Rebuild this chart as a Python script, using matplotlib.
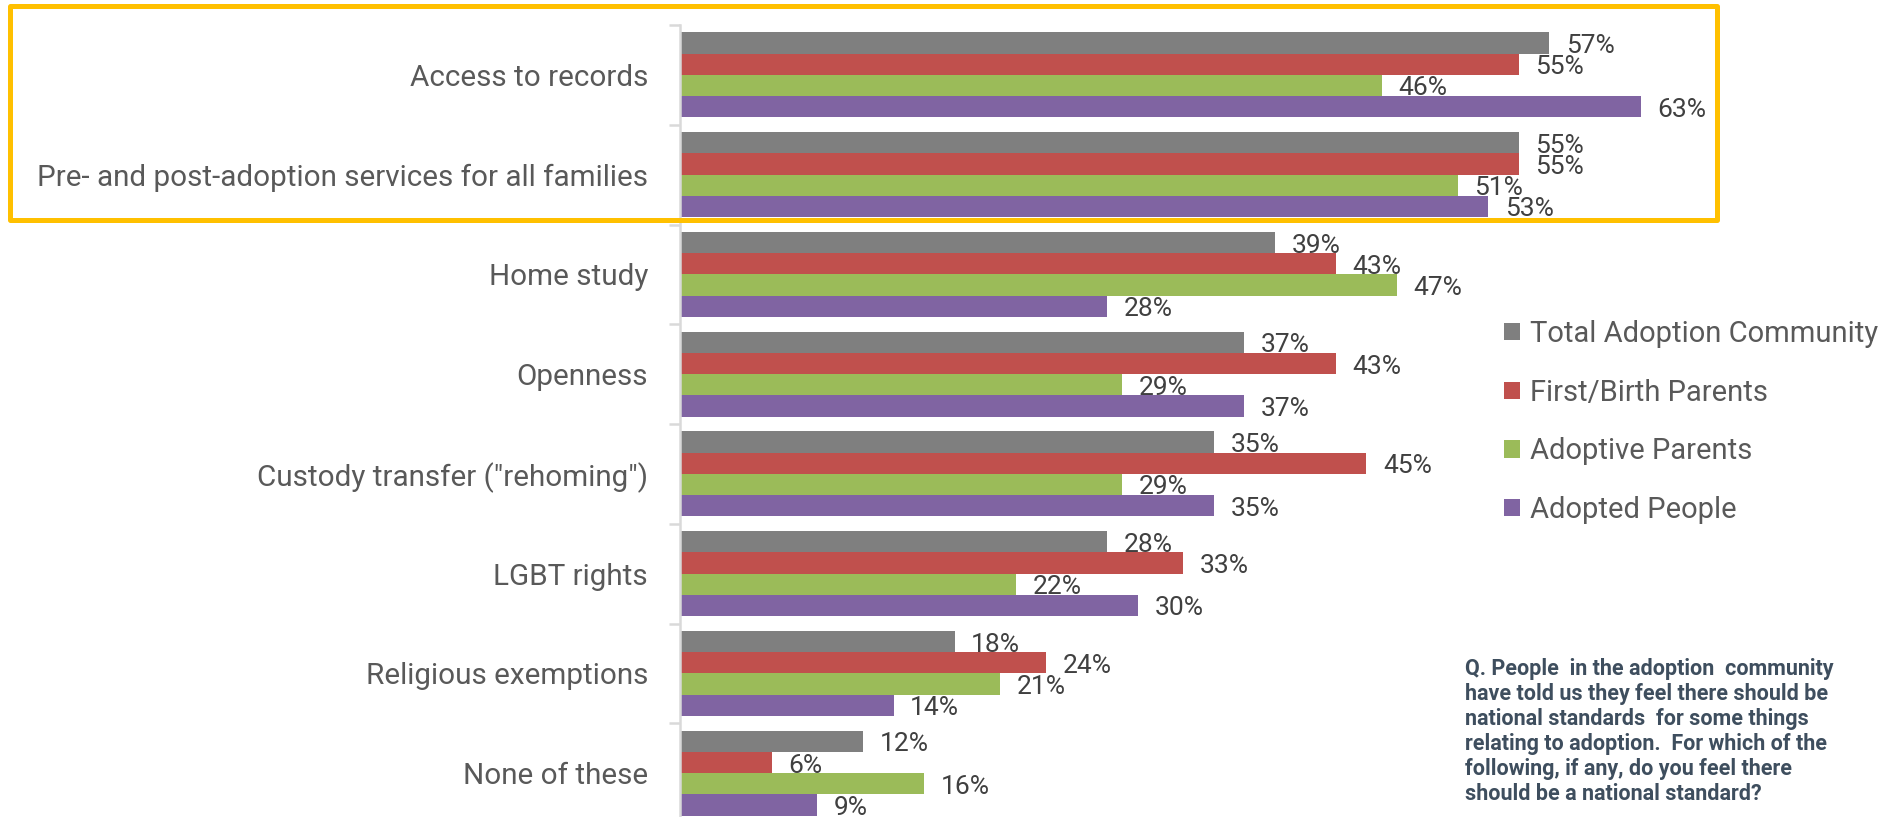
import numpy as np
import matplotlib.pyplot as plt
from matplotlib.patches import Patch, Rectangle

plt.rcParams['font.family'] = ['Roboto', 'DejaVu Sans']

categories = ['Access to records',
              'Pre- and post-adoption services for all families',
              'Home study',
              'Openness',
              'Custody transfer ("rehoming")',
              'LGBT rights',
              'Religious exemptions',
              'None of these']

series = ['Total Adoption Community', 'First/Birth Parents',
          'Adoptive Parents', 'Adopted People']

total_community = [57, 55, 39, 37, 35, 28, 18, 12]
birth_parents = [55, 55, 43, 43, 45, 33, 24, 6]
adoptive_parents = [46, 51, 47, 29, 29, 22, 21, 16]
adopted_people = [63, 53, 28, 37, 35, 30, 14, 9]

colors = ['#7f7f7f', '#c0504d', '#9bbb59', '#8064a2']

note_lines = ['Q. People  in the adoption  community',
              'have told us they feel there should be',
              'national standards  for some things',
              'relating to adoption.  For which of the',
              'following, if any, do you feel there',
              'should be a national standard?']

W, H = 1902, 817
fig = plt.figure(figsize=(W / 100, H / 100), dpi=100)

# axes: zero line at x=680px, 8 rows of ~100px starting 25px from the top
ax = fig.add_axes([680 / W, -6 / H, 1 - 680 / W, 798 / H])

values = [total_community, birth_parents, adoptive_parents, adopted_people]
y = np.arange(len(categories))
bar_h = 0.2125
for k, (vals, col, name) in enumerate(zip(values, colors, series)):
    pos = y + (k - 1.5) * bar_h
    ax.barh(pos, vals, height=bar_h, color=col, label=name, zorder=2)
    for p, v in zip(pos, vals):
        ax.text(v + 1.1, p + 0.03, f'{v}%', va='center', ha='left',
                fontsize=19, color='#404040', clip_on=False)

ax.set_xlim(0, (W - 680) / 15.25)
ax.set_ylim(len(categories) - 0.5, -0.5)

for side in ['top', 'right', 'bottom']:
    ax.spines[side].set_visible(False)
ax.spines['left'].set_color('#d9d9d9')
ax.spines['left'].set_linewidth(1.8)
ax.set_xticks([])

ax.set_yticks(y)
ax.set_yticklabels(categories, fontsize=21.3, color='#595959')
ax.set_yticks(np.arange(-0.5, len(categories) + 0.5, 1), minor=True)
ax.tick_params(axis='y', which='major', length=0, pad=23)
ax.tick_params(axis='y', which='minor', length=8, width=1.8,
               color='#d9d9d9', direction='out')

# legend on the right
handles = [Patch(facecolor=c) for c in colors]
fig.legend(handles, series, loc='upper left',
           bbox_to_anchor=(1504 / W, (H - 320) / H),
           frameon=False, fontsize=21, labelcolor='#595959',
           handlelength=0.55, handleheight=0.55, handletextpad=0.35,
           labelspacing=1.05, borderpad=0, borderaxespad=0)

# survey question text
for i, line in enumerate(note_lines):
    fig.text(1465 / W, (H - 669 - 25 * i) / H, line, fontsize=15.5,
             fontweight='bold', color='#3e4e5e', va='center', ha='left')

# highlight box around the two top categories
fig.patches.append(Rectangle((10 / W, (H - 220) / H), 1707 / W, 214 / H,
                             transform=fig.transFigure, fill=False,
                             edgecolor='#ffc000', linewidth=3.6,
                             joinstyle='round', zorder=5))

fig.savefig('out.png', dpi=100)
